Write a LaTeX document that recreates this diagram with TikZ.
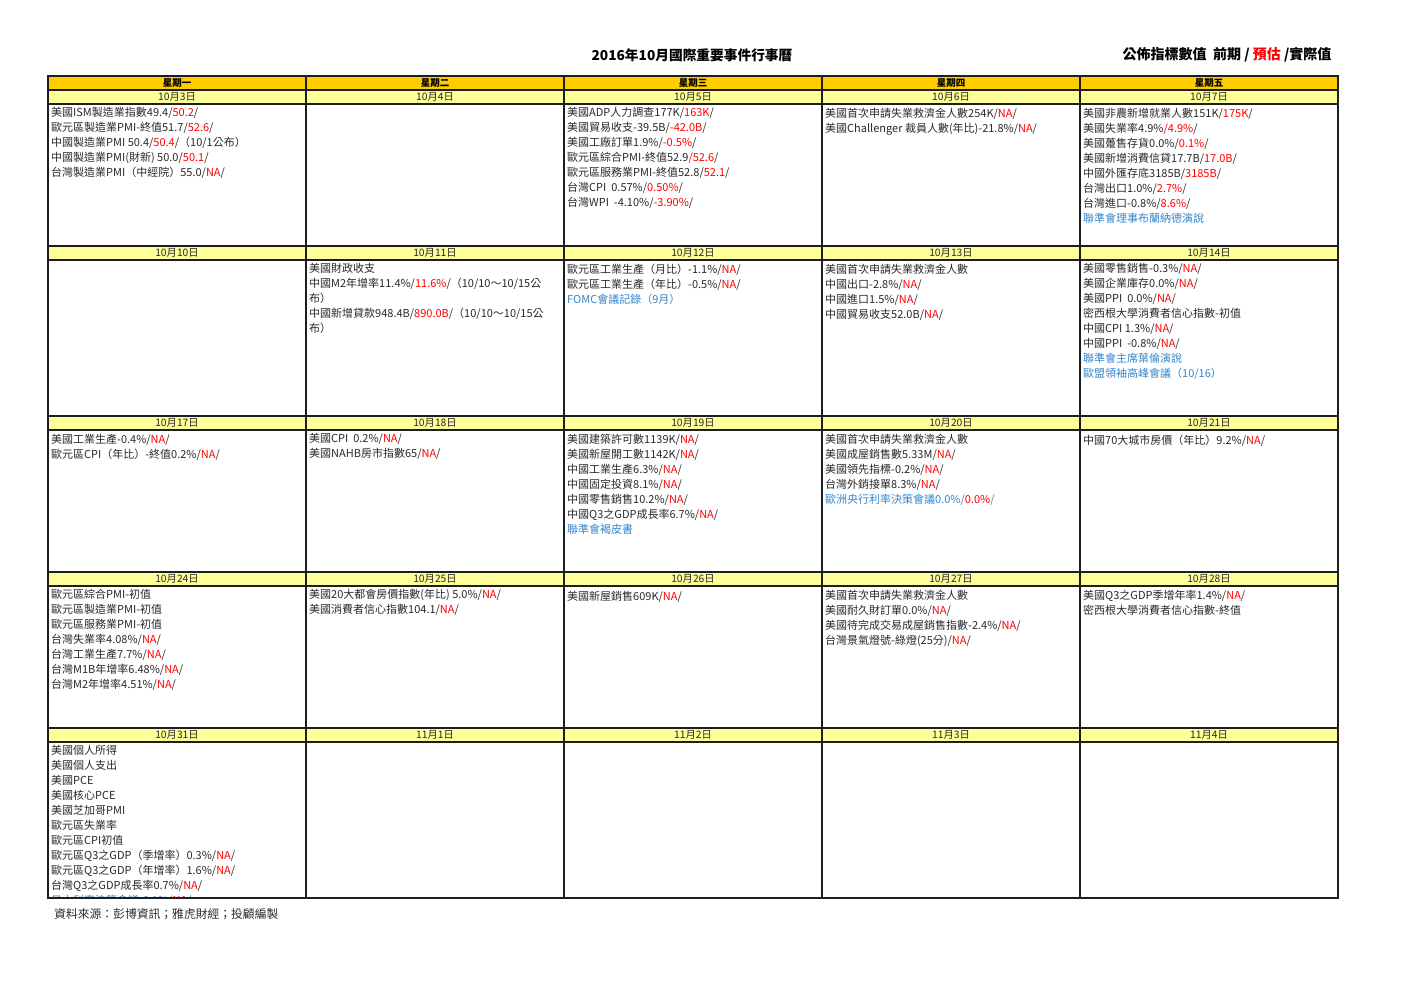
\documentclass[tikz,border=0pt]{standalone}
\usepackage{fontspec}
\setmainfont{Noto Sans CJK TC}
\definecolor{hdr}{RGB}{255,204,0}
\definecolor{datec}{RGB}{255,255,153}
\definecolor{nared}{RGB}{255,0,0}
\definecolor{evblue}{RGB}{51,133,204}
\definecolor{txt}{RGB}{40,40,40}
\definecolor{gridc}{RGB}{30,30,30}
\newcommand\redt[1]{\textcolor{nared}{#1}}
\newcommand\bluet[1]{\textcolor{evblue}{#1}}
\tikzset{
  cell/.style={anchor=north west, align=left, inner sep=0pt, text=txt,
    font=\fontsize{11}{15}\selectfont, execute at begin node=\strut},
  datelbl/.style={inner sep=0pt, text=txt, font=\fontsize{10.3}{12}\selectfont},
  daylbl/.style={inner sep=0pt, text=black, font=\bfseries\fontsize{9.5}{12}\selectfont},
  gridline/.style={draw=gridc, line width=1.3pt}
}
\begin{document}
\begin{tikzpicture}[x=1pt,y=-1pt]
\useasboundingbox (0,0) rectangle (1403,992);
% title and legend
\node[font=\bfseries\fontsize{13.7}{15}\selectfont, text=black] (title) at (692,55) {2016年10月國際重要事件行事曆};
\node[anchor=east, font=\bfseries\fontsize{14}{15}\selectfont, text=black] (legend) at (1335,55) {公佈指標數值\ \ 前期 / \textcolor{nared}{預估} /實際值};
% fills
\fill[hdr] (48,76) rectangle (1338,90);
\foreach \t in {90,246,416,572,728} \fill[datec] (48,\t) rectangle (1338,\t+14);
% weekday labels
\node[daylbl] (d1) at (177,83) {星期一};
\node[daylbl] (d2) at (435,83) {星期二};
\node[daylbl] (d3) at (693,83) {星期三};
\node[daylbl] (d4) at (951,83) {星期四};
\node[daylbl] (d5) at (1209,83) {星期五};
% dates
\node[datelbl] (t11) at (177,97) {10月3日};
\node[datelbl] (t12) at (435,97) {10月4日};
\node[datelbl] (t13) at (693,97) {10月5日};
\node[datelbl] (t14) at (951,97) {10月6日};
\node[datelbl] (t15) at (1209,97) {10月7日};
\node[datelbl] (t21) at (177,253) {10月10日};
\node[datelbl] (t22) at (435,253) {10月11日};
\node[datelbl] (t23) at (693,253) {10月12日};
\node[datelbl] (t24) at (951,253) {10月13日};
\node[datelbl] (t25) at (1209,253) {10月14日};
\node[datelbl] (t31) at (177,423) {10月17日};
\node[datelbl] (t32) at (435,423) {10月18日};
\node[datelbl] (t33) at (693,423) {10月19日};
\node[datelbl] (t34) at (951,423) {10月20日};
\node[datelbl] (t35) at (1209,423) {10月21日};
\node[datelbl] (t41) at (177,579) {10月24日};
\node[datelbl] (t42) at (435,579) {10月25日};
\node[datelbl] (t43) at (693,579) {10月26日};
\node[datelbl] (t44) at (951,579) {10月27日};
\node[datelbl] (t45) at (1209,579) {10月28日};
\node[datelbl] (t51) at (177,735) {10月31日};
\node[datelbl] (t52) at (435,735) {11月1日};
\node[datelbl] (t53) at (693,735) {11月2日};
\node[datelbl] (t54) at (951,735) {11月3日};
\node[datelbl] (t55) at (1209,735) {11月4日};
% row 1
\node[cell] (c11) at (51,107.5) {美國ISM製造業指數49.4/\redt{50.2}/\\
歐元區製造業PMI-終值51.7/\redt{52.6}/\\
中國製造業PMI 50.4/\redt{50.4}/（10/1公布）\\
中國製造業PMI(財新) 50.0/\redt{50.1}/\\
台灣製造業PMI（中經院）55.0/\redt{NA}/};
\node[cell] (c13) at (567,107.5) {美國ADP人力調查177K/\redt{163K}/\\
美國貿易收支-39.5B/\redt{-42.0B}/\\
美國工廠訂單1.9\%/\redt{-0.5\%}/\\
歐元區綜合PMI-終值52.9\redt{/52.6}/\\
歐元區服務業PMI-終值52.8/\redt{52.1}/\\
台灣CPI\ \ 0.57\%/\redt{0.50\%}/\\
台灣WPI\ \ -4.10\%/\redt{-3.90\%}/};
\node[cell] (c14) at (825,107.5) {美國首次申請失業救濟金人數254K/\redt{NA}/\\
美國Challenger 裁員人數(年比)-21.8\%/\redt{NA}/};
\node[cell] (c15) at (1083,107.5) {美國非農新增就業人數151K/\redt{175K}/\\
美國失業率4.9\%\redt{/4.9\%}/\\
美國躉售存貨0.0\%/\redt{0.1\%}/\\
美國新增消費信貸17.7B/\redt{17.0B}/\\
中國外匯存底3185B/\redt{3185B}/\\
台灣出口1.0\%/\redt{2.7\%}/\\
台灣進口-0.8\%/\redt{8.6\%}/\\
\bluet{聯準會理事布蘭納德演說}};
% row 2
\node[cell] (c22) at (309,263.5) {美國財政收支\\
中國M2年增率11.4\%/\redt{11.6\%}/（10/10～10/15公\\
布）\\
中國新增貸款948.4B/\redt{890.0B}/（10/10～10/15公\\
布）};
\node[cell] (c23) at (567,263.5) {歐元區工業生產（月比）-1.1\%/\redt{NA}/\\
歐元區工業生產（年比）-0.5\%/\redt{NA}/\\
\bluet{FOMC會議記錄（9月）}};
\node[cell] (c24) at (825,263.5) {美國首次申請失業救濟金人數\\
中國出口-2.8\%/\redt{NA}/\\
中國進口1.5\%/\redt{NA}/\\
中國貿易收支52.0B/\redt{NA}/};
\node[cell] (c25) at (1083,263.5) {美國零售銷售-0.3\%/\redt{NA}/\\
美國企業庫存0.0\%/\redt{NA}/\\
美國PPI\ \ 0.0\%/\redt{NA}/\\
密西根大學消費者信心指數-初值\\
中國CPI\ 1.3\%/\redt{NA}/\\
中國PPI\ \ -0.8\%/\redt{NA}/\\
\bluet{聯準會主席葉倫演說}\\
\bluet{歐盟領袖高峰會議（10/16）}};
% row 3
\node[cell] (c31) at (51,433.5) {美國工業生產-0.4\%/\redt{NA}/\\
歐元區CPI（年比）-終值0.2\%/\redt{NA}/};
\node[cell] (c32) at (309,433.5) {美國CPI\ \ 0.2\%/\redt{NA}/\\
美國NAHB房市指數65/\redt{NA}/};
\node[cell] (c33) at (567,433.5) {美國建築許可數1139K/\redt{NA}/\\
美國新屋開工數1142K/\redt{NA}/\\
中國工業生產6.3\%/\redt{NA}/\\
中國固定投資8.1\%/\redt{NA}/\\
中國零售銷售10.2\%/\redt{NA}/\\
中國Q3之GDP成長率6.7\%/\redt{NA}/\\
\bluet{聯準會褐皮書}};
\node[cell] (c34) at (825,433.5) {美國首次申請失業救濟金人數\\
美國成屋銷售數5.33M/\redt{NA}/\\
美國領先指標-0.2\%/\redt{NA}/\\
台灣外銷接單8.3\%/\redt{NA}/\\
\bluet{歐洲央行利率決策會議0.0\%/}\redt{0.0\%}\bluet{/}};
\node[cell] (c35) at (1083,433.5) {中國70大城市房價（年比）9.2\%/\redt{NA}/};
% row 4
\node[cell] (c41) at (51,589.5) {歐元區綜合PMI-初值\\
歐元區製造業PMI-初值\\
歐元區服務業PMI-初值\\
台灣失業率4.08\%/\redt{NA}/\\
台灣工業生產7.7\%/\redt{NA}/\\
台灣M1B年增率6.48\%/\redt{NA}/\\
台灣M2年增率4.51\%/\redt{NA}/};
\node[cell] (c42) at (309,589.5) {美國20大都會房價指數(年比) 5.0\%/\redt{NA}/\\
美國消費者信心指數104.1/\redt{NA}/};
\node[cell] (c43) at (567,589.5) {美國新屋銷售609K/\redt{NA}/};
\node[cell] (c44) at (825,589.5) {美國首次申請失業救濟金人數\\
美國耐久財訂單0.0\%/\redt{NA}/\\
美國待完成交易成屋銷售指數-2.4\%/\redt{NA}/\\
台灣景氣燈號-綠燈(25分)/\redt{NA}/};
\node[cell] (c45) at (1083,589.5) {美國Q3之GDP季增年率1.4\%/\redt{NA}/\\
密西根大學消費者信心指數-終值};
% row 5 (clipped)
\begin{scope}
\clip (48,742) rectangle (306,898);
\node[cell] (c51) at (51,745.5) {美國個人所得\\
美國個人支出\\
美國PCE\\
美國核心PCE\\
美國芝加哥PMI\\
歐元區失業率\\
歐元區CPI初值\\
歐元區Q3之GDP（季增率）0.3\%/\redt{NA}/\\
歐元區Q3之GDP（年增率）1.6\%/\redt{NA}/\\
台灣Q3之GDP成長率0.7\%/\redt{NA}/\\
\bluet{日本利率決策會議-0.1\%/}\redt{NA}\bluet{/}};
\end{scope}
% grid
\foreach \y in {76,90,104,246,260,416,430,572,586,728,742,898}
  \draw[gridline] (47.35,\y) -- (1338.65,\y);
\foreach \x in {48,306,564,822,1080,1338}
  \draw[gridline] (\x,75.35) -- (\x,898.65);
% footer
\node[anchor=west, inner sep=0pt, text=txt, font=\fontsize{11.8}{14}\selectfont] (src) at (54,914) {資料來源：彭博資訊；雅虎財經；投顧編製};
\end{tikzpicture}
\end{document}
